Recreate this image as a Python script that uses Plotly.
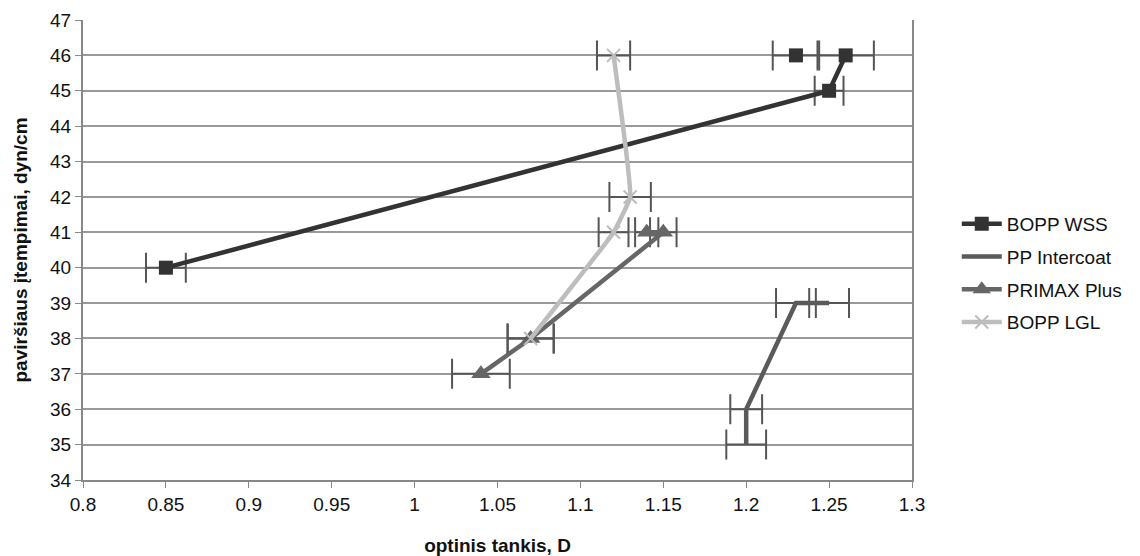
import plotly.graph_objects as go

# BOPP WSS (None breaks the line before the separate point)
wss_x = [0.85, 1.25, 1.26, None, 1.23]
wss_y = [40, 45, 46, None, 46]
wss_err = [0.012, 0.0087, 0.017, 0, 0.014]

# PP Intercoat
ppi_x = [1.20, 1.20, 1.23, 1.25]
ppi_y = [35, 36, 39, 39]
ppi_err = [0.012, 0.0096, 0.012, 0.012]

# PRIMAX Plus
pri_x = [1.04, 1.07, 1.15, 1.14]
pri_y = [37, 38, 41, 41]
pri_err = [0.0174, 0.0138, 0.008, 0.007]

# BOPP LGL
lgl_x = [1.12, 1.13, 1.12, 1.07]
lgl_y = [46, 42, 41, 38]
lgl_err = [0.01, 0.0125, 0.009, 0.014]

x_ticks = [0.8, 0.85, 0.9, 0.95, 1.0, 1.05, 1.1, 1.15, 1.2, 1.25, 1.3]
x_labels = ["0.8", "0.85", "0.9", "0.95", "1", "1.05", "1.1", "1.15", "1.2", "1.25", "1.3"]
y_ticks = list(range(34, 48))

ERR_COLOR = "#555555"
FONT = "Liberation Sans, Arial, sans-serif"
FS = 19


def err(arr):
    return dict(type="data", array=arr, visible=True, color=ERR_COLOR,
                thickness=2, width=15)


fig = go.Figure()
fig.add_trace(go.Scatter(
    x=wss_x, y=wss_y, name="BOPP WSS", mode="lines+markers", legendgroup="a",
    line=dict(color="#333333", width=4.5),
    marker=dict(symbol="square", size=14, color="#333333"),
    error_x=err(wss_err), connectgaps=False))
fig.add_trace(go.Scatter(
    x=ppi_x, y=ppi_y, name="PP Intercoat", mode="lines", legendgroup="b",
    line=dict(color="#5a5a5a", width=4.5),
    error_x=err(ppi_err)))
fig.add_trace(go.Scatter(
    x=pri_x, y=pri_y, name="PRIMAX Plus", mode="lines+markers", legendgroup="c",
    line=dict(color="#666666", width=4.5),
    marker=dict(symbol="triangle-up", size=17, color="#666666"),
    error_x=err(pri_err)))
fig.add_trace(go.Scatter(
    x=lgl_x, y=lgl_y, name="BOPP LGL", mode="lines+markers", legendgroup="d",
    line=dict(color="#bdbdbd", width=4.5, shape="spline", smoothing=0.3),
    marker=dict(symbol="x-thin", size=13, color="#bdbdbd",
                line=dict(color="#bdbdbd", width=2)),
    error_x=err(lgl_err)))

fig.update_layout(
    width=1140, height=556,
    paper_bgcolor="white", plot_bgcolor="white",
    margin=dict(l=83, r=220, t=20, b=76),
    font=dict(family=FONT, size=FS, color="#111111"),
    showlegend=True,
    legend=dict(x=1.054, y=0.45, xanchor="left", yanchor="middle",
                font=dict(size=FS, family=FONT), tracegroupgap=5,
                itemwidth=40),
    xaxis=dict(
        range=[0.8, 1.3], tickvals=x_ticks, ticktext=x_labels,
        showgrid=False, showline=True, linecolor="#888888", linewidth=2,
        ticks="outside", ticklen=6, tickcolor="#888888",
        title=dict(text="<b>optinis tankis, D</b>", font=dict(size=FS), standoff=25),
        zeroline=False, mirror=False, automargin=False),
    yaxis=dict(
        range=[34, 47], tickvals=y_ticks,
        showgrid=True, gridcolor="#999999", gridwidth=1.5,
        showline=True, linecolor="#888888", linewidth=2, mirror=True,
        ticks="outside", ticklen=6, tickcolor="#888888",
        title=dict(text="<b>paviršiaus įtempimai, dyn/cm</b>", font=dict(size=FS), standoff=17),
        zeroline=False, automargin=False),
)

fig.write_html(
    "out.html",
    config={"displayModeBar": False, "responsive": False},
    post_script="document.body.style.margin='0px';document.body.style.overflow='hidden';",
)
